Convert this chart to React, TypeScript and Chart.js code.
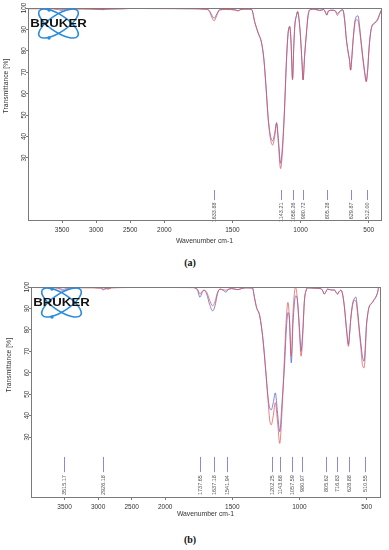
import React, { useEffect, useRef } from "react";
import { Chart, registerables } from "chart.js";

Chart.register(...registerables);

// ---------------- data: panel (a) ----------------
const wavenumbersA = [
  4000, 3700, 3550, 3480, 3400, 3200, 2950, 2900, 2850, 2600, 2360, 2340, 2000, 1800,
  1700, 1670, 1650, 1634, 1615, 1595, 1550, 1480, 1460, 1440, 1400, 1360, 1335, 1311,
  1286, 1269, 1254, 1237, 1220, 1205, 1190, 1176, 1162, 1147, 1132, 1118, 1104, 1092,
  1086, 1080, 1070, 1059, 1050, 1042, 1030, 1022, 1012, 1000, 990, 982, 970, 957, 945,
  930, 900, 860, 830, 815, 808, 795, 770, 745, 730, 720, 700, 690, 675, 665, 650, 641,
  633, 625, 616, 605, 596, 585, 578, 568, 555, 543, 531, 518, 510, 506, 500, 494, 485,
  475, 460, 446, 430, 423, 410, 400,
];
const redA = [
  99.6, 99.6, 99.2, 98.6, 99.2, 99.5, 99.3, 99.2, 99.4, 99.6, 100, 99.8, 99.7, 99.6,
  99.4, 98.5, 95.5, 94.0, 96.5, 99.0, 99.3, 99.0, 98.6, 99.2, 99.4, 99.3, 93.0, 88.2,
  83.5, 75.7, 63.2, 47.7, 38.5, 36.0, 40.0, 46.0, 36.0, 25.0, 34.0, 52.0, 75.0, 88.0,
  90.6, 91.4, 84.0, 67.0, 82.0, 92.0, 96.5, 98.3, 95.0, 86.0, 75.0, 66.5, 78.0, 88.3, 96.5,
  99.2, 99.4, 98.8, 99.2, 97.5, 96.6, 98.6, 98.9, 98.5, 96.5, 97.5, 99.0, 99.0, 93.0, 85.7, 79.0, 75.7,
  71.0, 76.0, 84.0, 91.0, 94.5, 94.5, 94.0, 90.0, 83.0, 76.0, 70.0, 65.5, 69.0, 72.6, 79.0, 84.0, 89.0,
  91.8, 92.5, 93.5, 95.0, 96.6, 98.6, 100,
];
const blueA = [
  99.8, 99.8, 99.6, 99.3, 99.6, 99.7, 99.4, 99.3, 99.5, 99.7, 100, 99.9, 99.8, 99.7,
  99.5, 98.8, 96.5, 95.2, 97.2, 99.2, 99.4, 99.2, 98.8, 99.3, 99.5, 99.4, 93.2, 88.4,
  83.7, 76.0, 63.6, 48.2, 40.0, 38.0, 41.5, 46.5, 38.0, 27.5, 36.5, 53.0, 75.0, 88.0,
  90.6, 91.4, 84.0, 66.5, 82.0, 92.0, 96.5, 98.3, 95.0, 86.0, 75.0, 66.4, 78.0, 88.3, 96.5,
  99.3, 99.5, 99.0, 99.3, 97.7, 96.8, 98.7, 99.0, 98.7, 97.4, 98.0, 99.0, 99.2, 93.5, 86.0, 79.0, 75.7,
  71.0, 76.0, 84.0, 92.0, 95.2, 96.3, 96.3, 92.0, 84.0, 77.0, 71.0, 65.8, 70.0, 72.6, 79.0, 84.0, 89.0,
  91.8, 93.0, 93.7, 95.5, 96.6, 98.6, 100,
];
const peaksA = [1633.88, 1143.21, 1058.26, 980.72, 805.28, 629.87, 512.0];

// ---------------- data: panel (b) ----------------
const wavenumbersB = [
  4000, 3700, 3600, 3520, 3450, 3200, 2960, 2926, 2880, 2850, 2800, 2400, 2360, 2330,
  2300, 2000, 1800, 1760, 1741, 1725, 1711, 1690, 1670, 1647, 1630, 1610, 1592, 1570,
  1548, 1530, 1506, 1480, 1459, 1430, 1400, 1350, 1335, 1320, 1296, 1272, 1252, 1235,
  1222, 1210, 1195, 1180, 1163, 1147, 1130, 1110, 1098, 1086, 1075, 1061, 1048, 1038,
  1029, 1018, 1005, 995, 988, 975, 963, 950, 939, 880, 840, 825, 816, 805, 791, 760,
  740, 725, 716, 705, 691, 680, 666, 647, 635, 626, 618, 605, 593, 580, 568, 556, 543,
  531, 519, 510, 502, 492, 482, 470, 457, 445, 432, 420, 408, 400,
];
const redB = [
  99.8, 99.6, 99.4, 98.2, 99.3, 99.6, 99.4, 98.6, 99.2, 99.0, 99.6, 99.8, 100, 100,
  99.8, 99.8, 99.7, 99.0, 96.7, 98.0, 98.5, 97.5, 94.0, 91.2, 93.0, 97.5, 99.0, 98.8,
  98.5, 99.0, 99.3, 99.0, 98.8, 99.3, 99.6, 99.5, 95.0, 90.5, 86.5, 75.6, 61.5, 48.0,
  38.0, 35.7, 40.0, 46.0, 37.0, 27.0, 42.0, 70.0, 85.0, 92.8, 86.0, 67.7, 88.0, 97.0,
  99.9, 96.0, 84.0, 73.0, 67.7, 78.0, 93.7, 98.5, 99.6, 99.4, 99.2, 98.0, 96.7, 97.5, 99.0, 98.6,
  98.6, 97.3, 96.7, 97.8, 98.5, 97.0, 91.2, 78.5, 72.3, 78.0, 85.0, 91.0, 93.8, 93.5, 88.0, 80.0, 72.0,
  63.8, 62.3, 68.0, 81.0, 87.0, 90.5, 91.8, 92.8, 94.0, 95.2, 97.0, 100, 100,
];
const blueB = [
  99.9, 99.8, 99.6, 98.9, 99.6, 99.8, 99.6, 99.0, 99.4, 99.2, 99.7, 99.9, 100, 100,
  99.9, 99.9, 99.8, 98.5, 95.2, 97.4, 98.5, 96.5, 92.0, 88.9, 91.0, 97.0, 99.0, 98.5,
  97.6, 98.8, 99.2, 99.0, 98.8, 99.3, 99.6, 99.5, 95.0, 90.5, 86.5, 75.6, 61.5, 49.0,
  43.5, 42.7, 46.0, 50.6, 41.0, 32.5, 46.0, 64.6, 80.0, 88.0, 85.0, 64.6, 83.0, 92.0,
  95.9, 95.0, 86.0, 76.0, 70.0, 80.0, 93.7, 98.5, 99.6, 99.4, 99.2, 98.0, 96.7, 97.5, 99.0, 98.6,
  98.6, 97.3, 96.7, 97.8, 98.5, 97.0, 91.2, 78.7, 73.2, 79.0, 85.0, 92.0, 94.4, 95.3, 90.0, 81.8, 74.0,
  67.7, 65.4, 72.0, 81.0, 87.0, 90.5, 92.0, 92.8, 94.0, 95.2, 97.0, 100, 100,
];
const peaksB = [
  3515.17, 2926.18, 1737.65, 1637.18, 1541.94, 1202.25, 1143.68, 1057.59, 980.97, 805.62,
  716.83, 628.88, 510.55,
];

// ---------------- axis ticks ----------------
const xTickValues = [3500, 3000, 2500, 2000, 1500, 1000, 500];
const yTickValues = [30, 40, 50, 60, 70, 80, 90, 100];
const xAxisTitle = "Wavenumber cm-1";
const yAxisTitle = "Transmittance [%]";
const logoText = "BRUKER";

// OPUS-style axis: the region above 2000 cm-1 is compressed by a factor 2
const BREAK = 2000;
const toAxis = (w: number) => (w > BREAK ? BREAK + (w - BREAK) / 2 : w);
const fromAxis = (t: number) => (t > BREAK ? BREAK + (t - BREAK) * 2 : t);

const FONT = "'Liberation Sans', Arial, sans-serif";
const RED = "rgba(225, 80, 80, 0.72)";
const BLUE = "rgba(75, 75, 205, 0.68)";
const PEAK_COLOR = "#8a8ad2";
const FRAME = "#7a7a7a";

type PanelCfg = {
  height: number;
  padTop: number;
  padRight: number;
  yAxisWidth: number;
  xAxisHeight: number;
  xMin: number;
  yMin: number;
  wn: number[];
  red: number[];
  blue: number[];
  peaks: number[];
  markTop: number;
  markBottom: number;
  textTop: number;
  yTitleX: number;
};

const panelA: PanelCfg = {
  height: 252, padTop: 8, padRight: 8, yAxisWidth: 28, xAxisHeight: 32,
  xMin: 410, yMin: 1, wn: wavenumbersA, red: redA, blue: blueA, peaks: peaksA,
  markTop: 15, markBottom: 10.3, textTop: 9.2, yTitleX: 6,
};
const panelB: PanelCfg = {
  height: 253, padTop: 15, padRight: 9, yAxisWidth: 31, xAxisHeight: 28,
  xMin: 400, yMin: 2, wn: wavenumbersB, red: redB, blue: blueB, peaks: peaksB,
  markTop: 20.7, markBottom: 13.6, textTop: 12.2, yTitleX: 9,
};

function makeDecor(cfg: PanelCfg) {
  return {
    id: "decor",
    afterDatasetsDraw(chart: any) {
      const { ctx, chartArea: a, scales } = chart;
      const xs = scales.x;
      const ys = scales.y;
      ctx.save();
      // peak markers
      ctx.strokeStyle = PEAK_COLOR;
      ctx.lineWidth = 1;
      ctx.fillStyle = "#555";
      ctx.font = `5.5px ${FONT}`;
      ctx.textAlign = "right";
      ctx.textBaseline = "middle";
      cfg.peaks.forEach((p) => {
        const x = Math.round(xs.getPixelForValue(toAxis(p))) + 0.5;
        ctx.beginPath();
        ctx.moveTo(x, ys.getPixelForValue(cfg.markTop));
        ctx.lineTo(x, ys.getPixelForValue(cfg.markBottom));
        ctx.stroke();
        ctx.save();
        ctx.translate(x, ys.getPixelForValue(cfg.textTop));
        ctx.rotate(-Math.PI / 2);
        ctx.fillText(p.toFixed(2), 0, 0);
        ctx.restore();
      });
      // frame
      ctx.strokeStyle = FRAME;
      ctx.lineWidth = 1;
      ctx.strokeRect(Math.round(a.left) + 0.5, Math.round(a.top) + 0.5,
        Math.round(a.right - a.left), Math.round(a.bottom - a.top));
      // logo
      const cx = a.left + 30.5;
      const cy = a.top + 15.5;
      ctx.strokeStyle = "#2a8cdc";
      ctx.lineWidth = 1.6;
      [0.58, -0.58].forEach((ang) => {
        ctx.beginPath();
        ctx.ellipse(cx, cy, 23, 8.5, ang, 0, Math.PI * 2);
        ctx.stroke();
      });
      ctx.fillStyle = "#2a8cdc";
      [[-9.5, -13.5], [-9.5, 14.5]].forEach(([dx, dy]) => {
        ctx.beginPath();
        ctx.arc(cx + dx, cy + dy, 1.7, 0, Math.PI * 2);
        ctx.fill();
      });
      ctx.save();
      ctx.translate(cx, cy + 0.5);
      ctx.scale(1.32, 1);
      ctx.fillStyle = "#111";
      ctx.font = `bold 10px ${FONT}`;
      ctx.textAlign = "center";
      ctx.textBaseline = "middle";
      ctx.fillText(logoText, 0, 0);
      ctx.restore();
      // y-axis title
      ctx.save();
      ctx.translate(cfg.yTitleX, ys.getPixelForValue(63.5));
      ctx.rotate(-Math.PI / 2);
      ctx.fillStyle = "#333";
      ctx.font = `6.8px ${FONT}`;
      ctx.textAlign = "center";
      ctx.textBaseline = "middle";
      ctx.fillText(yAxisTitle, 0, 0);
      ctx.restore();
      ctx.restore();
    },
  };
}

function Panel({ cfg }: { cfg: PanelCfg }) {
  const ref = useRef<HTMLCanvasElement>(null);
  useEffect(() => {
    if (!ref.current) return;
    const chart = new Chart(ref.current, {
      type: "line",
      data: {
        datasets: [
          {
            data: cfg.wn.map((w, i) => ({ x: toAxis(w), y: cfg.red[i] })),
            borderColor: RED,
            borderWidth: 1,
            pointRadius: 0,
            cubicInterpolationMode: "monotone",
          },
          {
            data: cfg.wn.map((w, i) => ({ x: toAxis(w), y: cfg.blue[i] })),
            borderColor: BLUE,
            borderWidth: 1,
            pointRadius: 0,
            cubicInterpolationMode: "monotone",
          },
        ],
      },
      options: {
        animation: false,
        responsive: false,
        devicePixelRatio: 1,
        layout: { padding: { top: cfg.padTop, right: cfg.padRight, left: 0, bottom: 0 } },
        plugins: { legend: { display: false }, tooltip: { enabled: false }, title: { display: false } },
        scales: {
          x: {
            type: "linear",
            reverse: true,
            min: toAxis(cfg.xMin),
            max: toAxis(4000),
            afterBuildTicks: (s: any) => {
              s.ticks = xTickValues.map((v) => ({ value: toAxis(v) }));
            },
            afterFit: (s: any) => {
              s.height = cfg.xAxisHeight;
            },
            ticks: {
              autoSkip: false,
              maxRotation: 0,
              padding: 3,
              color: "#333",
              font: { family: FONT, size: 6.5 },
              callback: (v: any) => String(fromAxis(Number(v))),
            },
            grid: { drawOnChartArea: false, drawTicks: true, tickLength: 3, color: FRAME },
            border: { display: false },
            title: {
              display: true,
              text: xAxisTitle,
              color: "#333",
              font: { family: FONT, size: 6.8 },
              padding: { top: 0, bottom: 7 },
            },
          },
          y: {
            type: "linear",
            min: cfg.yMin,
            max: 100,
            afterBuildTicks: (s: any) => {
              s.ticks = yTickValues.map((v) => ({ value: v }));
            },
            afterFit: (s: any) => {
              s.width = cfg.yAxisWidth;
            },
            ticks: {
              minRotation: 90,
              maxRotation: 90,
              crossAlign: "center",
              padding: -3.5,
              color: "#333",
              font: { family: FONT, size: 6.3 },
            },
            grid: { drawOnChartArea: false, drawTicks: true, tickLength: 2, color: FRAME },
            border: { display: false },
          },
        },
      },
      plugins: [makeDecor(cfg)],
    } as any);
    return () => chart.destroy();
  }, [cfg]);
  return (
    <canvas
      ref={ref}
      width={389}
      height={cfg.height}
      style={{ display: "block", width: 389, height: cfg.height }}
    />
  );
}

const captionStyle: React.CSSProperties = {
  position: "absolute",
  left: 0,
  width: 380,
  textAlign: "center",
  fontFamily: "'Liberation Serif', 'Times New Roman', serif",
  fontWeight: "bold",
  fontSize: 10,
  lineHeight: "12px",
  color: "#111",
};

export default function App() {
  return (
    <div style={{ position: "absolute", left: 0, top: 0, width: 389, height: 550, background: "#fff", overflow: "hidden" }}>
      <div style={{ position: "absolute", left: 0, top: 0 }}>
        <Panel cfg={panelA} />
      </div>
      <div style={{ ...captionStyle, top: 257 }}>(a)</div>
      <div style={{ position: "absolute", left: 0, top: 272 }}>
        <Panel cfg={panelB} />
      </div>
      <div style={{ ...captionStyle, top: 534 }}>(b)</div>
    </div>
  );
}
